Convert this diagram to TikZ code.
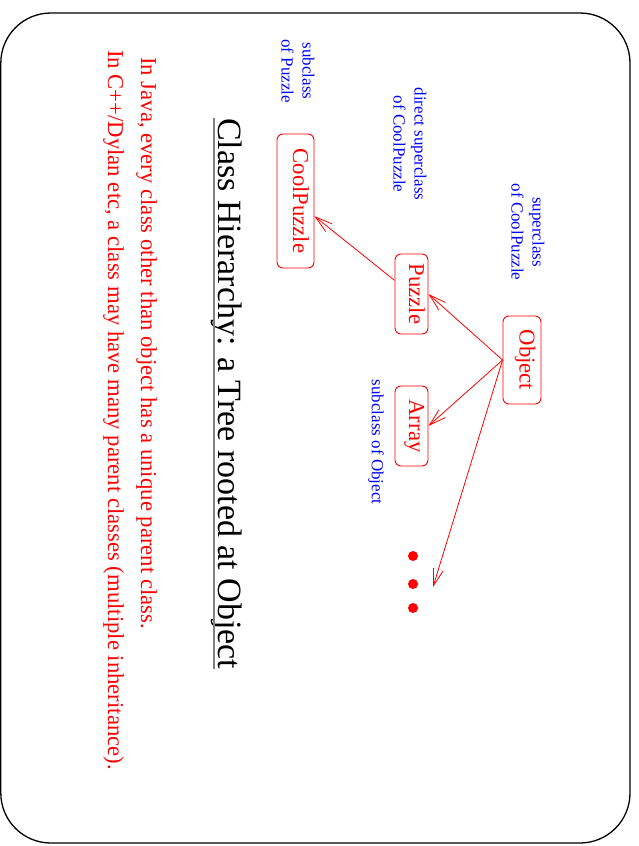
\documentclass[tikz,border=0pt]{standalone}
\usepackage{fontspec}
\setmainfont{Liberation Serif}
\usetikzlibrary{arrows.meta}
\begin{document}
\begin{tikzpicture}[x=1pt,y=1pt,
  cls/.style={draw=red, text=red, rounded corners=6pt, rotate=-90, inner sep=0pt,
    font=\fontsize{22.7}{26}\selectfont, line width=0.9pt, text height=0.7em, text depth=0.2em},
  note/.style={text=blue, rotate=-90, align=center, font=\fontsize{17}{21}\selectfont, inner sep=0pt},
  body/.style={text=red, rotate=-90, anchor=base west, inner sep=0pt, font=\fontsize{22.7}{26}\selectfont},
  arr/.style={draw=red, line width=0.8pt, -{Straight Barb[length=17pt,width=10pt]}},
  dot/.style={circle, fill=red, inner sep=0pt, minimum size=10pt}
]
\useasboundingbox (0,0) rectangle (638,-846);
\draw[line width=1.3pt, rounded corners=50pt] (0.8,-13) rectangle (630,-843);

\node[rotate=-90, anchor=base west, inner sep=0pt, font=\fontsize{34}{40}\selectfont] (title) at (218,-118) {Class Hierarchy: a Tree rooted at Object};
\draw[gray, line width=1.6pt] ([xshift=-4pt]title.base west) -- ([xshift=-4pt]title.base east);

\node[cls, minimum width=88pt, minimum height=38pt] (Object) at (522,-360) {Object};
\node[cls, minimum width=80pt, minimum height=33pt] (Puzzle) at (411.5,-294) {Puzzle};
\node[cls, minimum width=80pt, minimum height=33pt] (Array) at (411.5,-426) {Array};
\node[cls, minimum width=134pt, minimum height=37pt] (CoolPuzzle) at (295.5,-201) {CoolPuzzle};

\coordinate (more) at (433,-587);
\draw[arr] (Object.south) -- (Puzzle.north);
\draw[arr] (Object.south) -- (Array.north);
\draw[arr] (Object.south) -- (more);
\draw[arr] (Puzzle) -- (CoolPuzzle);

\node[dot] (d1) at (413,-556) {};
\node[dot] (d2) at (413,-584) {};
\node[dot] (d3) at (413,-608) {};

\node[note] (n1) at (528,-232) {superclass\\of CoolPuzzle};
\node[note] (n2) at (410,-144) {direct superclass\\of CoolPuzzle};
\node[note] (n3) at (298,-71) {subclass\\of Puzzle};
\node[note] (n4) at (376,-442) {subclass of Object};

\node[body] (java) at (141,-57) {In Java, every class other than object has a unique parent class.};
\node[body] (cpp) at (108,-50) {In C++/Dylan etc, a class may have many parent classes (multiple inheritance).};
\end{tikzpicture}
\end{document}
